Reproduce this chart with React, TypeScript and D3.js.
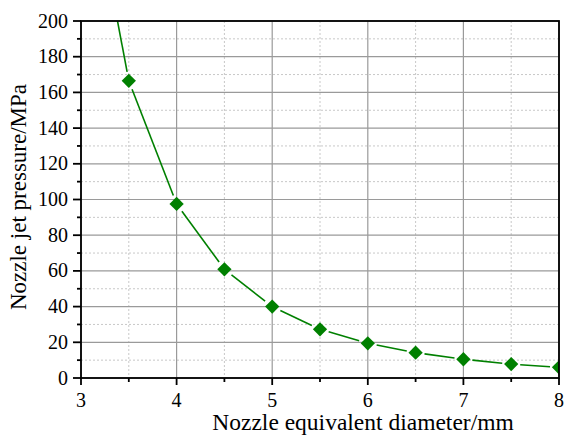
import React, { useEffect, useRef } from 'react';
import * as d3 from 'd3';

// nozzle equivalent diameter (mm) and jet pressure (MPa)
const diameters = [3, 3.5, 4, 4.5, 5, 5.5, 6, 6.5, 7, 7.5, 8];
const pressures = [308, 166.5, 97.5, 60.9, 40, 27.3, 19.4, 14.2, 10.5, 7.8, 6.0];

const xTicks = [3, 4, 5, 6, 7, 8];
const xMinor = [3.5, 4.5, 5.5, 6.5, 7.5];
const yTicks = [0, 20, 40, 60, 80, 100, 120, 140, 160, 180, 200];
const yMinor = [10, 30, 50, 70, 90, 110, 130, 150, 170, 190];

const App = () => {
  const svgRef = useRef<SVGSVGElement>(null);

  useEffect(() => {
    const svg = d3.select(svgRef.current);
    svg.selectAll('*').remove();

    const left = 81, right = 559, top = 21, bottom = 378;
    const font = 'Liberation Serif';
    const green = '#008000';

    const x = d3.scaleLinear().domain([3, 8]).range([left, right]);
    const y = d3.scaleLinear().domain([0, 200]).range([bottom, top]);

    svg.append('rect').attr('width', 564).attr('height', 436).attr('fill', '#fff');

    const grid = svg.append('g');
    // minor grid, dotted
    xMinor.forEach(v => {
      grid.append('line')
        .attr('x1', x(v)).attr('x2', x(v)).attr('y1', top).attr('y2', bottom)
        .attr('stroke', '#c8c8c8').attr('stroke-width', 1).attr('stroke-dasharray', '2,2');
    });
    yMinor.forEach(v => {
      grid.append('line')
        .attr('x1', left).attr('x2', right).attr('y1', y(v)).attr('y2', y(v))
        .attr('stroke', '#c8c8c8').attr('stroke-width', 1).attr('stroke-dasharray', '2,2');
    });
    // major grid
    xTicks.forEach(v => {
      grid.append('line')
        .attr('x1', x(v)).attr('x2', x(v)).attr('y1', top).attr('y2', bottom)
        .attr('stroke', '#9a9a9a').attr('stroke-width', 1.2);
    });
    yTicks.forEach(v => {
      grid.append('line')
        .attr('x1', left).attr('x2', right).attr('y1', y(v)).attr('y2', y(v))
        .attr('stroke', '#9a9a9a').attr('stroke-width', 1.2);
    });

    svg.append('defs').append('clipPath').attr('id', 'plotClip')
      .append('rect').attr('x', left).attr('y', top)
      .attr('width', right - left).attr('height', bottom - top);

    const plot = svg.append('g').attr('clip-path', 'url(#plotClip)');
    const pts = diameters.map((d, i) => [x(d), y(pressures[i])]);

    // line segments with a small gap at each symbol
    const gap = 9;
    for (let i = 0; i < pts.length - 1; i++) {
      const [x0, y0] = pts[i];
      const [x1, y1] = pts[i + 1];
      const len = Math.hypot(x1 - x0, y1 - y0);
      const ux = (x1 - x0) / len, uy = (y1 - y0) / len;
      const g0 = i === 0 ? 0 : gap;
      plot.append('line')
        .attr('x1', x0 + ux * g0).attr('y1', y0 + uy * g0)
        .attr('x2', x1 - ux * gap).attr('y2', y1 - uy * gap)
        .attr('stroke', green).attr('stroke-width', 1.6);
    }

    const sym = d3.symbol().type(d3.symbolDiamond2).size(130);
    plot.selectAll('.dot')
      .data(pts.slice(1))
      .enter().append('path')
      .attr('transform', d => `translate(${d[0]},${d[1]})`)
      .attr('d', sym)
      .attr('fill', green);

    // frame
    const ax = svg.append('g').attr('stroke', '#000').attr('stroke-width', 1.8);
    ax.append('rect').attr('x', left).attr('y', top)
      .attr('width', right - left).attr('height', bottom - top).attr('fill', 'none');

    xTicks.forEach(v => {
      ax.append('line').attr('x1', x(v)).attr('x2', x(v)).attr('y1', bottom).attr('y2', bottom + 7);
    });
    xMinor.forEach(v => {
      ax.append('line').attr('x1', x(v)).attr('x2', x(v)).attr('y1', bottom).attr('y2', bottom + 4);
    });
    yTicks.forEach(v => {
      ax.append('line').attr('x1', left - 8).attr('x2', left).attr('y1', y(v)).attr('y2', y(v));
    });
    yMinor.forEach(v => {
      ax.append('line').attr('x1', left - 4).attr('x2', left).attr('y1', y(v)).attr('y2', y(v));
    });

    const txt = svg.append('g').attr('font-family', font).attr('fill', '#000');

    txt.selectAll('.xl')
      .data(xTicks)
      .enter().append('text')
      .attr('x', d => x(d))
      .attr('y', 407)
      .attr('text-anchor', 'middle')
      .attr('font-size', 20)
      .text(d => d);

    txt.selectAll('.yl')
      .data(yTicks)
      .enter().append('text')
      .attr('x', left - 13)
      .attr('y', d => y(d) + 6.5)
      .attr('text-anchor', 'end')
      .attr('font-size', 20)
      .text(d => d);

    txt.append('text')
      .attr('x', 363)
      .attr('y', 430)
      .attr('text-anchor', 'middle')
      .attr('font-size', 23.5)
      .text('Nozzle equivalent diameter/mm');

    txt.append('text')
      .attr('transform', `translate(26, 197) rotate(-90)`)
      .attr('text-anchor', 'middle')
      .attr('font-size', 23)
      .text('Nozzle jet pressure/MPa');
  }, []);

  return (
    <svg
      ref={svgRef}
      width={564}
      height={436}
      style={{ position: 'absolute', left: 0, top: 0, display: 'block' }}
    />
  );
};

export default App;
